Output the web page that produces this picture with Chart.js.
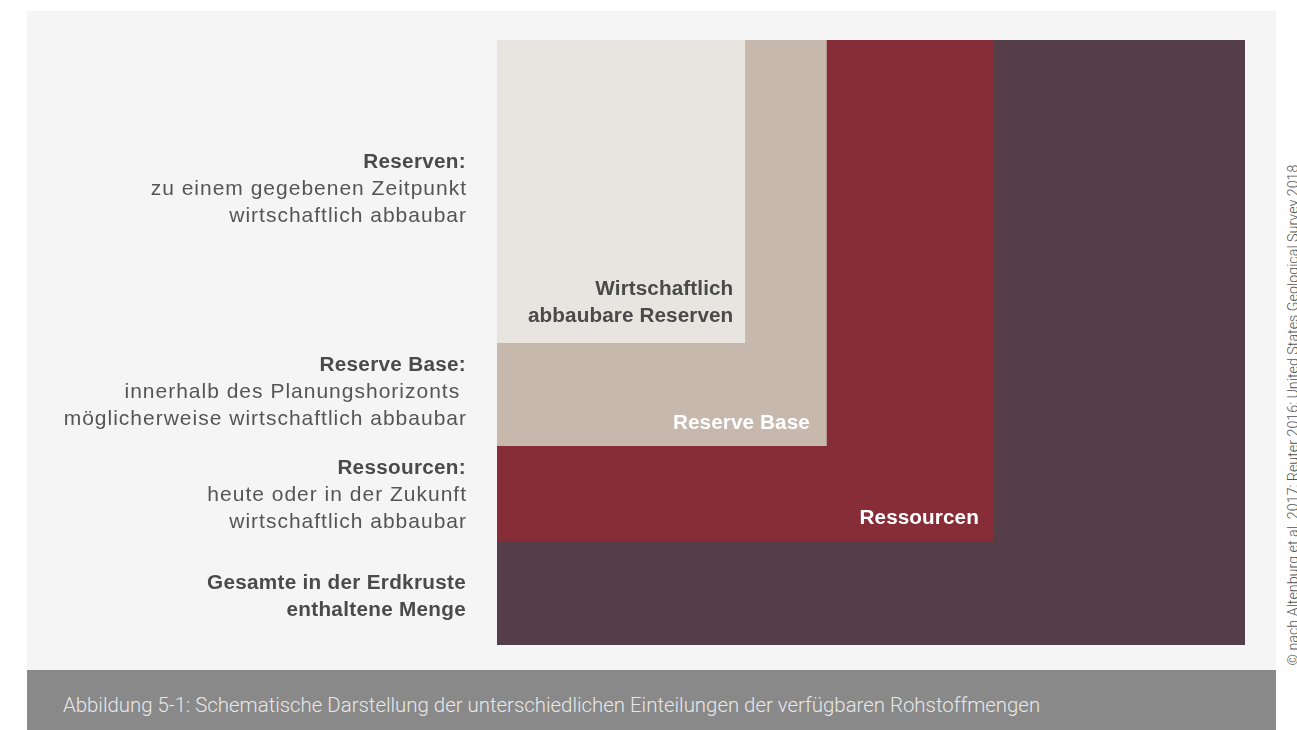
<!DOCTYPE html>
<html lang="de">
<head>
    <meta charset="UTF-8">
    <title>Rohstoffmengen</title>
    <script src="https://cdn.jsdelivr.net/npm/chart.js"></script>
    <style>
        body {
            margin: 0;
            background: #fff;
            width: 1297px;
            height: 730px;
            position: relative;
            overflow: hidden;
            font-family: "Liberation Sans", Arial, sans-serif;
        }
        #panel {
            position: absolute;
            left: 27px;
            top: 11px;
            width: 1249px;
            height: 659px;
            background: #f5f5f5;
        }
        #caption {
            position: absolute;
            left: 27px;
            top: 670px;
            width: 1249px;
            height: 60px;
            background: #898989;
            color: #e8e8e8;
            font-family: Roboto, sans-serif;
            font-weight: 300;
            font-size: 20.4px;
            line-height: 52px;
            box-sizing: border-box;
            padding-left: 36px;
            padding-top: 9px;
        }
        #credit {
            position: absolute;
            left: 1293px;
            top: 415px;
            transform: translate(-50%, -50%) rotate(-90deg);
            white-space: nowrap;
            font-family: Roboto, sans-serif;
            font-weight: 300;
            font-size: 14.3px;
            color: #555;
        }
        canvas {
            position: absolute;
            left: 0;
            top: 0;
        }
    </style>
</head>
<body>
    <div id="panel"></div>
    <div id="caption">Abbildung 5-1: Schematische Darstellung der unterschiedlichen Einteilungen der verfügbaren Rohstoffmengen</div>
    <div id="credit">© nach Altenburg et al. 2017; Reuter 2016; United States Geological Survey 2018</div>
    <canvas id="chart" width="1297" height="730"></canvas>

    <script>
        // nested categories, largest first (share of the total amount, %)
        const categories = ['Gesamte in der Erdkruste enthaltene Menge', 'Ressourcen', 'Reserve Base', 'Wirtschaftlich abbaubare Reserven'];
        const widths = [100, 66.3, 44.1, 33.2];
        const heights = [100, 82.8, 67.1, 50.1];
        const colors = ['#553e48', '#862d37', '#c7b8ad', '#e8e4df'];

        // labels inside the boxes
        const boxLabels = [[], ['Ressourcen'], ['Reserve Base'], ['Wirtschaftlich', 'abbaubare Reserven']];
        const boxLabelColors = ['#fff', '#fff', '#fff', '#4a4a4a'];

        // explanations on the left
        const sideTitles = ['Reserven:', 'Reserve Base:', 'Ressourcen:'];
        const sideTexts = [
            ['zu einem gegebenen Zeitpunkt', 'wirtschaftlich abbaubar'],
            ['innerhalb des Planungshorizonts ', 'möglicherweise wirtschaftlich abbaubar'],
            ['heute oder in der Zukunft', 'wirtschaftlich abbaubar']
        ];
        const totalText = ['Gesamte in der Erdkruste', 'enthaltene Menge'];

        const datasets = categories.map((name, i) => ({
            label: name,
            data: [{ x: 0, y: heights[i] }, { x: widths[i], y: heights[i] }],
            backgroundColor: colors[i],
            borderWidth: 0,
            pointRadius: 0,
            fill: 'origin',
            order: categories.length - i
        }));

        const boldFont = 'bold 20.7px "Liberation Sans", Arial, sans-serif';
        const plainFont = '21px "Liberation Sans", Arial, sans-serif';

        const textPlugin = {
            id: 'texts',
            afterDatasetsDraw(chart) {
                const ctx = chart.ctx;
                const x = chart.scales.x;
                ctx.save();
                ctx.textAlign = 'right';
                ctx.textBaseline = 'middle';

                // box labels, bottom right of each box
                const pad = [0, 14, 17, 12];
                const lineY = [[], [518], [423], [289, 316]];
                ctx.font = boldFont;
                ctx.letterSpacing = '0.1px';
                boxLabels.forEach((lines, i) => {
                    ctx.fillStyle = boxLabelColors[i];
                    lines.forEach((t, j) => {
                        ctx.fillText(t, x.getPixelForValue(widths[i]) - pad[i], lineY[i][j]);
                    });
                });

                // side explanations
                const rx = chart.chartArea.left - 31;
                const starts = [162, 365, 468];
                sideTitles.forEach((t, i) => {
                    ctx.fillStyle = '#4a4a4a';
                    ctx.font = boldFont;
                    ctx.letterSpacing = '0.3px';
                    ctx.fillText(t, rx, starts[i]);
                    ctx.fillStyle = '#555';
                    ctx.font = plainFont;
                    ctx.letterSpacing = '1px';
                    sideTexts[i].forEach((s, j) => ctx.fillText(s, rx + 1, starts[i] + 27 * (j + 1)));
                });
                ctx.letterSpacing = '0.3px';
                ctx.fillStyle = '#4a4a4a';
                ctx.font = boldFont;
                totalText.forEach((s, j) => ctx.fillText(s, rx, 583 + 27 * j));
                ctx.restore();
            }
        };

        new Chart(document.getElementById('chart'), {
            type: 'scatter',
            data: { datasets: datasets },
            options: {
                responsive: false,
                animation: false,
                showLine: true,
                layout: { padding: { left: 497, top: 40, right: 52, bottom: 85 } },
                scales: {
                    x: { type: 'linear', min: 0, max: 100, display: false },
                    y: { type: 'linear', min: 0, max: 100, reverse: true, display: false }
                },
                plugins: {
                    legend: { display: false },
                    tooltip: { enabled: false }
                }
            },
            plugins: [textPlugin]
        });
    </script>
</body>
</html>
